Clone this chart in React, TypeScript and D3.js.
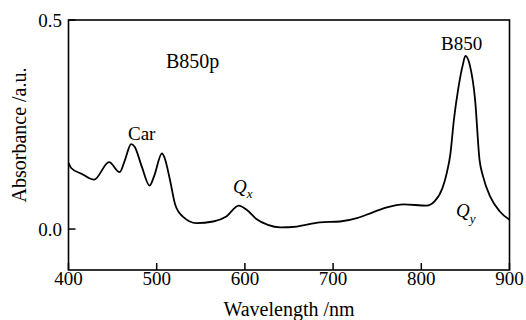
import React from "react";
import * as d3 from "d3";

const wavelengths = [400, 403, 415, 429, 446, 458, 464, 471, 475, 483, 492, 497, 506, 509, 515, 521, 530, 545, 564, 579, 593, 602, 613, 626, 640, 659, 685, 708, 727, 745, 761, 780, 806, 815, 824, 829, 833, 837, 842, 847, 850, 855, 861, 866, 870, 878, 889, 900];
const absorbance = [0.158, 0.146, 0.132, 0.118, 0.160, 0.136, 0.165, 0.203, 0.197, 0.150, 0.104, 0.126, 0.181, 0.170, 0.118, 0.058, 0.029, 0.014, 0.018, 0.030, 0.056, 0.046, 0.024, 0.010, 0.004, 0.006, 0.016, 0.018, 0.026, 0.040, 0.052, 0.059, 0.056, 0.066, 0.098, 0.135, 0.180, 0.262, 0.337, 0.392, 0.414, 0.392, 0.309, 0.166, 0.126, 0.078, 0.042, 0.022];
const xTicks = [400, 500, 600, 700, 800, 900];
const yTicks = [0.0, 0.5];

const W = 526, H = 320;
const L = 68.5, R = 509.5, T = 20, B = 270;
const FONT = "Liberation Serif, Times New Roman, DejaVu Serif, serif";

export default function App() {
  const x = d3.scaleLinear().domain([400, 900]).range([L, R]);
  const y = d3.scaleLinear().domain([-0.098, 0.5]).range([B, T]);
  const pts = wavelengths.map((w, i) => [w, absorbance[i]] as [number, number]);
  const line = d3.line<[number, number]>().x(d => x(d[0])).y(d => y(d[1])).curve(d3.curveMonotoneX);
  const ts = { fontFamily: FONT } as React.CSSProperties;
  return (
    <svg width={W} height={H} style={{ position: "absolute", left: 0, top: 0, background: "#fff", fontFamily: FONT }}>
      <rect x={0} y={0} width={W} height={H} fill="#fff" />
      <path d={line(pts) || ""} fill="none" stroke="#000" strokeWidth={1.8} strokeLinejoin="round" />
      <rect x={L} y={T} width={R - L} height={B - T} fill="none" stroke="#000" strokeWidth={1.6} />
      {xTicks.map(t => (
        <g key={t}>
          <line x1={x(t)} x2={x(t)} y1={B} y2={B - 7} stroke="#000" strokeWidth={1.5} />
          <text style={ts} x={x(t)} y={285} fontSize={19} textAnchor="middle">{t}</text>
        </g>
      ))}
      {yTicks.map(t => (
        <g key={t}>
          <line x1={L} x2={L + 7} y1={y(t)} y2={y(t)} stroke="#000" strokeWidth={1.5} />
          <text style={ts} x={62} y={y(t) + 6.5} fontSize={19} textAnchor="end">{t.toFixed(1)}</text>
        </g>
      ))}
      <text style={ts} x={(L + R) / 2} y={316} fontSize={20} textAnchor="middle">Wavelength /nm</text>
      <text style={ts} transform={`translate(26,135) rotate(-90)`} fontSize={20} textAnchor="middle">Absorbance /a.u.</text>
      <text style={ts} x={166} y={68} fontSize={20}>B850p</text>
      <text style={ts} x={128} y={140} fontSize={19}>Car</text>
      <text style={ts} x={441} y={50} fontSize={19}>B850</text>
      <text style={ts} x={233} y={192.5} fontSize={19} fontStyle="italic">Q<tspan fontSize={13} dy={5}>x</tspan></text>
      <text style={ts} x={456} y={217} fontSize={19} fontStyle="italic">Q<tspan fontSize={13} dy={6}>y</tspan></text>
    </svg>
  );
}
